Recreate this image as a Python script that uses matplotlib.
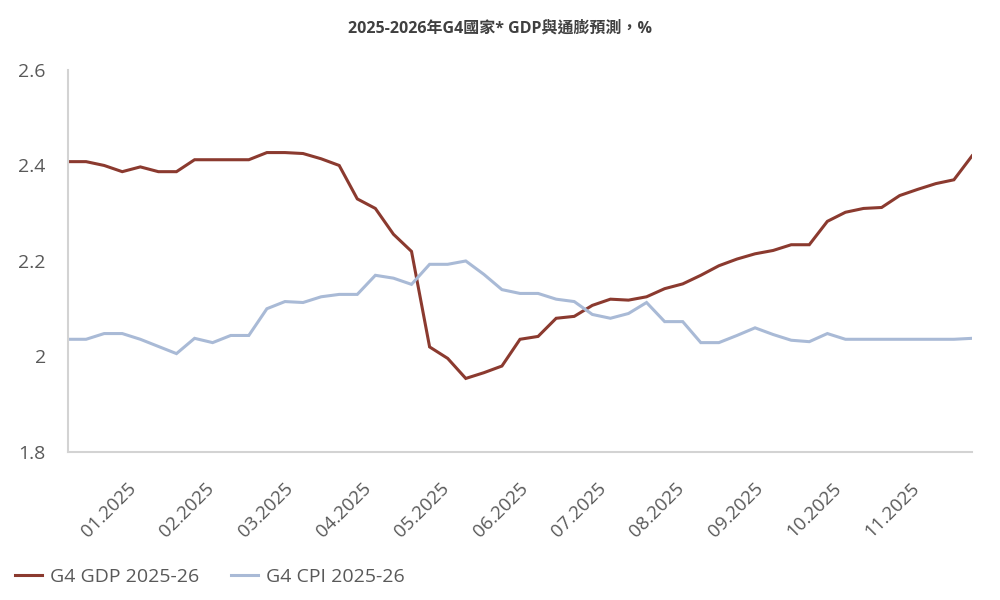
import matplotlib
matplotlib.use("Agg")
import numpy as np
from matplotlib import pyplot as plt

# 每週預測值 (G4 GDP 與 CPI)
gdp = [2.408, 2.408, 2.400, 2.387, 2.397, 2.387, 2.387, 2.412, 2.412, 2.412,
       2.412, 2.427, 2.427, 2.425, 2.414, 2.400, 2.330, 2.310, 2.256, 2.220,
       2.020, 1.996, 1.954, 1.966, 1.980, 2.036, 2.042, 2.080, 2.084, 2.107,
       2.120, 2.118, 2.125, 2.142, 2.152, 2.170, 2.190, 2.204, 2.215, 2.222,
       2.234, 2.234, 2.283, 2.302, 2.310, 2.312, 2.337, 2.350, 2.362, 2.370,
       2.420]
cpi = [2.036, 2.036, 2.048, 2.048, 2.036, 2.021, 2.006, 2.038, 2.029, 2.044,
       2.044, 2.100, 2.115, 2.113, 2.125, 2.130, 2.130, 2.170, 2.164, 2.151,
       2.193, 2.193, 2.200, 2.172, 2.140, 2.132, 2.132, 2.120, 2.115, 2.088,
       2.080, 2.090, 2.113, 2.073, 2.073, 2.029, 2.029, 2.044, 2.060, 2.046,
       2.034, 2.031, 2.048, 2.036, 2.036, 2.036, 2.036, 2.036, 2.036, 2.036,
       2.038]
months = ["01.2025", "02.2025", "03.2025", "04.2025", "05.2025", "06.2025",
          "07.2025", "08.2025", "09.2025", "10.2025", "11.2025"]
yticks = [1.8, 2.0, 2.2, 2.4, 2.6]
ylabels = ["1.8", "2", "2.2", "2.4", "2.6"]

title = "2025-2026年G4國家* GDP與通膨預測，%"
names = ["G4 GDP 2025-26", "G4 CPI 2025-26"]

fonts = ["Open Sans", "Noto Sans CJK TC", "DejaVu Sans"]
plt.rcParams["font.family"] = fonts

txt = "#595959"

fig = plt.figure(figsize=(10, 6), dpi=100)
ax = fig.add_axes([0.068, 0.2467, 0.904, 0.6367])

x = np.arange(len(gdp))
l1, = ax.plot(x, gdp, color="#8B3A2F", lw=2.2, solid_joinstyle="miter")
l2, = ax.plot(x, cpi, color="#A9BAD6", lw=2.2, solid_joinstyle="miter")

ax.set_xlim(0, len(gdp) - 1)
ax.set_ylim(1.8, 2.6)
ax.set_yticks(yticks)
ax.set_yticklabels(ylabels)
ax.set_xticks([3.6 + k * 52 / 12 for k in range(len(months))])
ax.set_xticklabels(months, rotation=45, ha="right", rotation_mode="anchor", va="center")

ax.tick_params(axis="y", length=0, pad=16, labelsize=14, labelcolor=txt)
ax.tick_params(axis="x", length=0, pad=24, labelsize=13.5, labelcolor=txt)

for s in ["top", "right"]:
    ax.spines[s].set_visible(False)
for s in ["left", "bottom"]:
    ax.spines[s].set_color("#D3D3D3")
    ax.spines[s].set_linewidth(1.5)

fig.text(0.5, 0.953, title, ha="center", va="center", fontsize=11.5,
         fontweight="bold", color="#404040")

fig.legend([l1, l2], names, loc="center left", bbox_to_anchor=(0.015, 0.038),
           ncol=2, frameon=False, fontsize=14, handlelength=1.4,
           handletextpad=0.42, columnspacing=1.6, borderpad=0,
           borderaxespad=0, labelcolor=txt)

fig.savefig("out.png", dpi=100)
